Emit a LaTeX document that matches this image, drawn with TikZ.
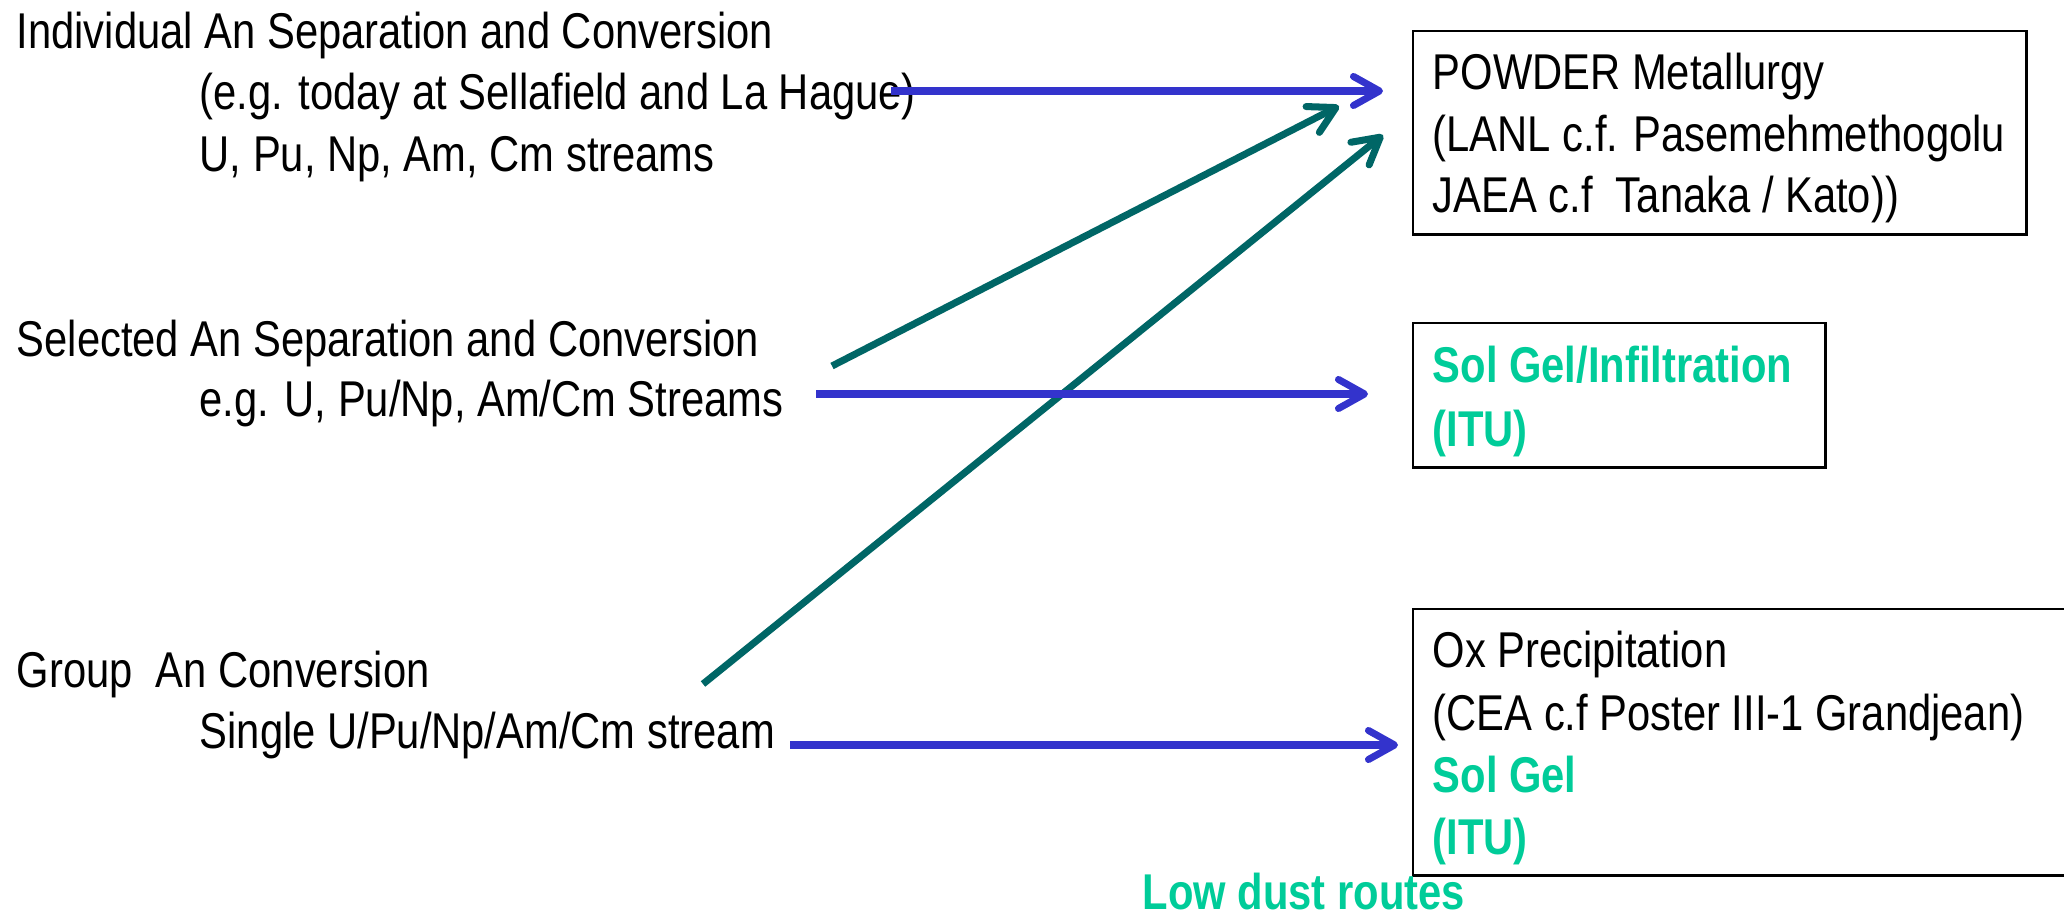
\documentclass[tikz,border=0pt]{standalone}
\usepackage{fontspec}
\setmainfont[FakeStretch=0.83]{Liberation Sans}
\usetikzlibrary{arrows.meta}
\definecolor{arrowblue}{RGB}{51,51,204}
\definecolor{arrowteal}{RGB}{0,102,102}
\definecolor{routegreen}{RGB}{0,204,153}
\tikzstyle{txt} = [anchor=base west, inner sep=0pt, font=\fontsize{14.3}{17}\selectfont]
\tikzstyle{greentxt} = [txt, text=routegreen, font=\fontsize{14.3}{17}\selectfont\bfseries]
\tikzstyle{box} = [rectangle, draw=black, line width=0.7pt, anchor=north west, inner sep=0pt]
\tikzstyle{bluearrow} = [line width=2pt, draw=arrowblue, -{Straight Barb[length=2.6mm, width=2.9mm, round]}]
\tikzstyle{tealarrow} = [line width=2pt, draw=arrowteal, -{Straight Barb[length=2.6mm, width=2.9mm, round]}]

\begin{document}
\begin{tikzpicture}[x=0.01cm, y=-0.01cm]
    \useasboundingbox (0,0) rectangle (2064,916);

    % routes on the left
    \node (ind1) [txt] at (16,49) {Individual An Separation and Conversion};
    \node (ind2) [txt] at (199,110) {(e.g. today at Sellafield and La Hague)};
    \node (ind3) [txt] at (199,172) {U, Pu, Np, Am, Cm streams};
    \node (sel1) [txt] at (16,357) {Selected An Separation and Conversion};
    \node (sel2) [txt] at (199,417) {e.g. U, Pu/Np, Am/Cm Streams};
    \node (grp1) [txt] at (16,687) {Group\ \ An Conversion};
    \node (grp2) [txt] at (199,748) {Single U/Pu/Np/Am/Cm stream};

    % fabrication boxes
    \node (pmbox) [box, minimum width=6.13cm, minimum height=2.03cm] at (1412,30) {};
    \node (pm1) [txt] at (1432,90) {POWDER Metallurgy};
    \node (pm2) [txt] at (1432,152) {(LANL c.f. Pasemehmethogolu};
    \node (pm3) [txt] at (1432,213) {JAEA c.f\ \ Tanaka / Kato))};

    \node (sgbox) [box, minimum width=4.12cm, minimum height=1.44cm] at (1412,322) {};
    \node (sg1) [greentxt] at (1432,383) {Sol Gel/Infiltration};
    \node (sg2) [greentxt] at (1432,447) {(ITU)};

    \node (oxbox) [box, minimum width=6.9cm, minimum height=2.66cm] at (1412,608) {};
    \node (ox1) [txt] at (1432,668) {Ox Precipitation};
    \node (ox2) [txt] at (1432,730) {(CEA c.f Poster III-1 Grandjean)};
    \node (ox3) [greentxt] at (1432,792) {Sol Gel};
    \node (ox4) [greentxt] at (1432,854) {(ITU)};

    \node (dust) [greentxt] at (1142,909) {Low dust routes};

    % arrow ends
    \coordinate (indA) at (891,91);
    \coordinate (indB) at (1383,91);
    \coordinate (selA) at (816,394);
    \coordinate (selB) at (1368,394);
    \coordinate (grpA) at (790,745);
    \coordinate (grpB) at (1398,745);
    \coordinate (selC) at (832,366);
    \coordinate (selD) at (1339,106);
    \coordinate (grpC) at (703,684);
    \coordinate (grpD) at (1383,135);

    \draw [tealarrow] (selC) -- (selD);
    \draw [tealarrow] (grpC) -- (grpD);
    \draw [bluearrow] (indA) -- (indB);
    \draw [bluearrow] (selA) -- (selB);
    \draw [bluearrow] (grpA) -- (grpB);
\end{tikzpicture}
\end{document}
